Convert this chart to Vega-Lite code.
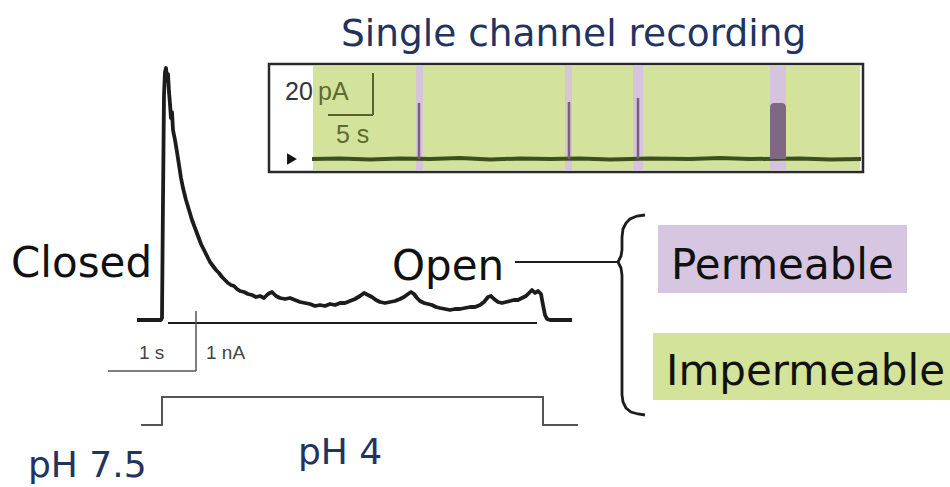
{
  "$schema": "https://vega.github.io/schema/vega-lite/v6.json",
  "width": 950,
  "height": 487,
  "padding": 0,
  "autosize": {"type": "none"},
  "background": "white",
  "config": {"view": {"stroke": null}},
  "datasets": {
    "frame": [{"x": 269, "x2": 863, "y": 64, "y2": 172}],
    "green": [{"x": 313, "x2": 860, "y": 66, "y2": 170}],
    "bands": [
      {"x": 416, "x2": 423, "y": 66, "y2": 171},
      {"x": 565, "x2": 572, "y": 66, "y2": 171},
      {"x": 633, "x2": 643, "y": 66, "y2": 171},
      {"x": 770, "x2": 786, "y": 66, "y2": 171}
    ],
    "insetTrace": [
      {"x": 312, "y": 159}, {"x": 340, "y": 158.5}, {"x": 370, "y": 159.5}, {"x": 400, "y": 158.5},
      {"x": 430, "y": 159}, {"x": 460, "y": 158}, {"x": 490, "y": 159.5}, {"x": 520, "y": 158.5},
      {"x": 550, "y": 159}, {"x": 580, "y": 158.5}, {"x": 610, "y": 159.5}, {"x": 650, "y": 158.5},
      {"x": 690, "y": 159}, {"x": 720, "y": 158}, {"x": 750, "y": 159}, {"x": 800, "y": 158.5},
      {"x": 830, "y": 159.5}, {"x": 861, "y": 159}
    ],
    "spikes": [
      {"x": 419, "y": 103, "y2": 159},
      {"x": 569, "y": 102, "y2": 159},
      {"x": 638, "y": 98, "y2": 159}
    ],
    "block": [{"x": 770, "x2": 786, "y": 103, "y2": 159}],
    "insetBar": [
      {"x": 373, "y": 73, "x2": 373, "y2": 115},
      {"x": 328, "y": 115, "x2": 373, "y2": 115}
    ],
    "arrow": [{"x": 292, "y": 159}],
    "trace": [
      {"x": 137, "y": 320}, {"x": 150, "y": 320}, {"x": 161, "y": 320}, {"x": 162, "y": 318},
      {"x": 163, "y": 200}, {"x": 164, "y": 95}, {"x": 165, "y": 72}, {"x": 166, "y": 68},
      {"x": 167, "y": 78}, {"x": 168, "y": 74}, {"x": 169, "y": 92}, {"x": 170, "y": 104},
      {"x": 171, "y": 118}, {"x": 172, "y": 112}, {"x": 173, "y": 130}, {"x": 175, "y": 140},
      {"x": 177, "y": 152}, {"x": 179, "y": 165}, {"x": 181, "y": 178}, {"x": 183, "y": 188},
      {"x": 186, "y": 200}, {"x": 189, "y": 210}, {"x": 192, "y": 220}, {"x": 195, "y": 228},
      {"x": 198, "y": 236}, {"x": 201, "y": 244}, {"x": 204, "y": 250}, {"x": 207, "y": 256},
      {"x": 210, "y": 262}, {"x": 213, "y": 266}, {"x": 216, "y": 270}, {"x": 219, "y": 273},
      {"x": 222, "y": 277}, {"x": 225, "y": 280}, {"x": 228, "y": 283}, {"x": 231, "y": 285},
      {"x": 234, "y": 286}, {"x": 237, "y": 289}, {"x": 240, "y": 291}, {"x": 244, "y": 292},
      {"x": 248, "y": 294}, {"x": 252, "y": 295}, {"x": 256, "y": 297}, {"x": 260, "y": 296},
      {"x": 264, "y": 298}, {"x": 268, "y": 294}, {"x": 272, "y": 292}, {"x": 276, "y": 296},
      {"x": 280, "y": 298}, {"x": 285, "y": 299}, {"x": 290, "y": 298}, {"x": 295, "y": 300},
      {"x": 300, "y": 302}, {"x": 305, "y": 303}, {"x": 310, "y": 304}, {"x": 315, "y": 306},
      {"x": 320, "y": 305}, {"x": 325, "y": 306}, {"x": 330, "y": 304}, {"x": 335, "y": 305},
      {"x": 340, "y": 303}, {"x": 345, "y": 303}, {"x": 350, "y": 301}, {"x": 355, "y": 299},
      {"x": 360, "y": 296}, {"x": 364, "y": 293}, {"x": 368, "y": 295}, {"x": 372, "y": 297},
      {"x": 376, "y": 300}, {"x": 380, "y": 302}, {"x": 385, "y": 303}, {"x": 390, "y": 302},
      {"x": 395, "y": 301}, {"x": 400, "y": 299}, {"x": 404, "y": 297}, {"x": 408, "y": 294},
      {"x": 411, "y": 292}, {"x": 414, "y": 294}, {"x": 417, "y": 298}, {"x": 420, "y": 301},
      {"x": 424, "y": 303}, {"x": 428, "y": 304}, {"x": 432, "y": 305}, {"x": 436, "y": 307},
      {"x": 440, "y": 308}, {"x": 445, "y": 309}, {"x": 450, "y": 310}, {"x": 455, "y": 309},
      {"x": 460, "y": 309}, {"x": 465, "y": 308}, {"x": 470, "y": 307}, {"x": 475, "y": 307},
      {"x": 480, "y": 305}, {"x": 484, "y": 302}, {"x": 488, "y": 297}, {"x": 491, "y": 296},
      {"x": 494, "y": 299}, {"x": 498, "y": 302}, {"x": 502, "y": 303}, {"x": 506, "y": 302},
      {"x": 510, "y": 301}, {"x": 514, "y": 300}, {"x": 518, "y": 300}, {"x": 522, "y": 298},
      {"x": 526, "y": 296}, {"x": 529, "y": 293}, {"x": 532, "y": 290}, {"x": 535, "y": 293},
      {"x": 538, "y": 291}, {"x": 541, "y": 294}, {"x": 543, "y": 305}, {"x": 545, "y": 315},
      {"x": 547, "y": 319}, {"x": 550, "y": 320}, {"x": 572, "y": 320}
    ],
    "blackRules": [
      {"x": 168, "y": 323, "x2": 537, "y2": 323},
      {"x": 515, "y": 262, "x2": 618, "y2": 262}
    ],
    "scaleBar": [
      {"x": 196, "y": 311, "x2": 196, "y2": 371},
      {"x": 108, "y": 371, "x2": 196, "y2": 371}
    ],
    "phStep": [
      {"x": 142, "y": 425, "x2": 162, "y2": 425},
      {"x": 162, "y": 425, "x2": 162, "y2": 397},
      {"x": 162, "y": 397, "x2": 543, "y2": 397},
      {"x": 543, "y": 397, "x2": 543, "y2": 425},
      {"x": 543, "y": 425, "x2": 577, "y2": 425}
    ],
    "bracket": [
      {"o": 1, "x": 645, "y": 215}, {"o": 2, "x": 637, "y": 216}, {"o": 3, "x": 630, "y": 219},
      {"o": 4, "x": 626, "y": 223}, {"o": 5, "x": 623, "y": 229}, {"o": 6, "x": 622, "y": 237},
      {"o": 7, "x": 622, "y": 250}, {"o": 8, "x": 621, "y": 256}, {"o": 9, "x": 618, "y": 262},
      {"o": 10, "x": 621, "y": 268}, {"o": 11, "x": 622, "y": 275}, {"o": 12, "x": 622, "y": 395},
      {"o": 13, "x": 623, "y": 402}, {"o": 14, "x": 626, "y": 408}, {"o": 15, "x": 631, "y": 412},
      {"o": 16, "x": 638, "y": 414}, {"o": 17, "x": 645, "y": 415}
    ],
    "permeableBox": [{"x": 658, "x2": 907, "y": 225, "y2": 293}],
    "impermeableBox": [{"x": 653, "x2": 950, "y": 333, "y2": 400}],
    "bigLabels": [
      {"x": 11, "y": 277, "text": "Closed"},
      {"x": 392, "y": 280, "text": "Open"},
      {"x": 671, "y": 279, "text": "Permeable"},
      {"x": 666, "y": 385, "text": "Impermeable"}
    ],
    "navyTitle": [{"x": 341, "y": 46, "text": "Single channel recording"}],
    "navyLabels": [
      {"x": 298, "y": 464, "text": "pH 4"},
      {"x": 28, "y": 477, "text": "pH 7.5"}
    ],
    "insetDark": [{"x": 285, "y": 100, "text": "20"}],
    "insetOlive": [
      {"x": 318, "y": 100, "text": "pA"},
      {"x": 336, "y": 143, "text": "5 s"}
    ],
    "scaleLabels": [
      {"x": 139, "y": 359, "text": "1 s"},
      {"x": 206, "y": 359, "text": "1 nA"}
    ]
  },
  "encoding": {
    "x": {"field": "x", "type": "quantitative", "scale": {"domain": [0, 950], "nice": false, "zero": false}, "axis": null},
    "y": {"field": "y", "type": "quantitative", "scale": {"domain": [487, 0], "nice": false, "zero": false}, "axis": null}
  },
  "layer": [
    {"data": {"name": "frame"}, "mark": {"type": "rect", "fill": "white", "stroke": "#2a2a2a", "strokeWidth": 2.5},
     "encoding": {"x2": {"field": "x2"}, "y2": {"field": "y2"}}},
    {"data": {"name": "green"}, "mark": {"type": "rect", "fill": "#d4e39b"},
     "encoding": {"x2": {"field": "x2"}, "y2": {"field": "y2"}}},
    {"data": {"name": "bands"}, "mark": {"type": "rect", "fill": "#d6c4dd"},
     "encoding": {"x2": {"field": "x2"}, "y2": {"field": "y2"}}},
    {"data": {"name": "insetTrace"}, "mark": {"type": "line", "stroke": "#3d4f1f", "strokeWidth": 4},
     "encoding": {}},
    {"data": {"name": "spikes"}, "mark": {"type": "rule", "stroke": "#76607a", "strokeWidth": 2.5},
     "encoding": {"y2": {"field": "y2"}}},
    {"data": {"name": "block"}, "mark": {"type": "rect", "fill": "#7f6881", "cornerRadiusTopLeft": 4, "cornerRadiusTopRight": 4},
     "encoding": {"x2": {"field": "x2"}, "y2": {"field": "y2"}}},
    {"data": {"name": "insetBar"}, "mark": {"type": "rule", "stroke": "#58622e", "strokeWidth": 2},
     "encoding": {"x2": {"field": "x2"}, "y2": {"field": "y2"}}},
    {"data": {"name": "arrow"}, "mark": {"type": "point", "shape": "triangle-right", "filled": true, "color": "#111", "size": 130, "opacity": 1}},
    {"data": {"name": "trace"}, "mark": {"type": "line", "stroke": "#1c1c1c", "strokeWidth": 3.8, "strokeJoin": "round"},
     "encoding": {}},
    {"data": {"name": "blackRules"}, "mark": {"type": "rule", "stroke": "#1c1c1c", "strokeWidth": 2.2},
     "encoding": {"x2": {"field": "x2"}, "y2": {"field": "y2"}}},
    {"data": {"name": "scaleBar"}, "mark": {"type": "rule", "stroke": "#555", "strokeWidth": 1.5},
     "encoding": {"x2": {"field": "x2"}, "y2": {"field": "y2"}}},
    {"data": {"name": "phStep"}, "mark": {"type": "rule", "stroke": "#555", "strokeWidth": 2, "strokeCap": "square"},
     "encoding": {"x2": {"field": "x2"}, "y2": {"field": "y2"}}},
    {"data": {"name": "bracket"}, "mark": {"type": "line", "stroke": "#1c1c1c", "strokeWidth": 2.8, "interpolate": "linear"},
     "encoding": {"order": {"field": "o", "type": "quantitative"}}},
    {"data": {"name": "permeableBox"}, "mark": {"type": "rect", "fill": "#d7c6e1"},
     "encoding": {"x2": {"field": "x2"}, "y2": {"field": "y2"}}},
    {"data": {"name": "impermeableBox"}, "mark": {"type": "rect", "fill": "#d3e39a"},
     "encoding": {"x2": {"field": "x2"}, "y2": {"field": "y2"}}},
    {"data": {"name": "bigLabels"}, "mark": {"type": "text", "font": "DejaVu Sans", "fontSize": 42, "color": "#111", "align": "left", "baseline": "alphabetic"},
     "encoding": {"text": {"field": "text"}}},
    {"data": {"name": "navyTitle"}, "mark": {"type": "text", "font": "DejaVu Sans", "fontSize": 37.5, "color": "#1f3461", "align": "left", "baseline": "alphabetic"},
     "encoding": {"text": {"field": "text"}}},
    {"data": {"name": "navyLabels"}, "mark": {"type": "text", "font": "DejaVu Sans", "fontSize": 36, "color": "#1f3461", "align": "left", "baseline": "alphabetic"},
     "encoding": {"text": {"field": "text"}}},
    {"data": {"name": "insetDark"}, "mark": {"type": "text", "font": "Liberation Sans", "fontSize": 25, "color": "#333", "align": "left", "baseline": "alphabetic"},
     "encoding": {"text": {"field": "text"}}},
    {"data": {"name": "insetOlive"}, "mark": {"type": "text", "font": "Liberation Sans", "fontSize": 25, "color": "#5d6a30", "align": "left", "baseline": "alphabetic"},
     "encoding": {"text": {"field": "text"}}},
    {"data": {"name": "scaleLabels"}, "mark": {"type": "text", "font": "Liberation Sans", "fontSize": 19, "color": "#444", "align": "left", "baseline": "alphabetic"},
     "encoding": {"text": {"field": "text"}}}
  ]
}
